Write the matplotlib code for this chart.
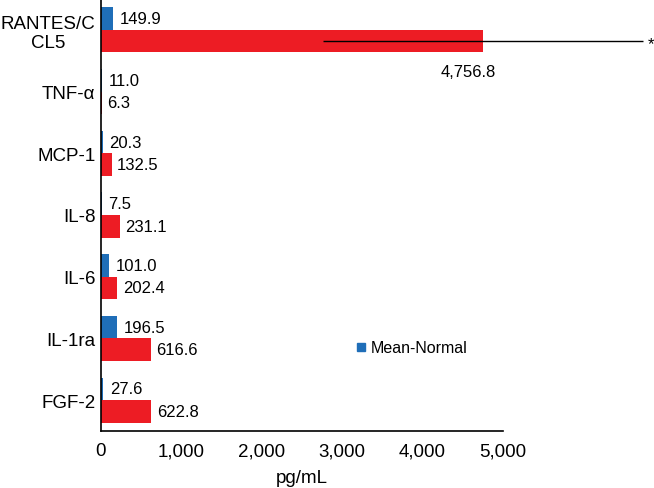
import matplotlib
matplotlib.use("Agg")
import matplotlib.pyplot as plt
from matplotlib.lines import Line2D

plt.rcParams['font.family'] = ['Liberation Sans', 'DejaVu Sans']

categories = ["RANTES/C\nCL5", "TNF-α", "MCP-1", "IL-8", "IL-6", "IL-1ra", "FGF-2"]
normal = [149.9, 11.0, 20.3, 7.5, 101.0, 196.5, 27.6]
other = [4756.8, 6.3, 132.5, 231.1, 202.4, 616.6, 622.8]
rantes_err = 1990
xticks = [0, 1000, 2000, 3000, 4000, 5000]
xticklabels = ["0", "1,000", "2,000", "3,000", "4,000", "5,000"]

blue = "#1f6eb8"
red = "#ed1c24"

fig = plt.figure(figsize=(6.54, 4.89), dpi=100)
ax = fig.add_axes([101/654, 1 - 432/489, (503-101)/654, 432/489])

pos = list(range(len(categories)))
h = 0.365
yb = [p - h/2 for p in pos]
yr = [p + h/2 for p in pos]
ax.barh(yb, normal, height=h, color=blue, label="Mean-Normal")
ax.barh(yr, other, height=h, color=red, label="_nolegend_")

# error bar on RANTES
ax.errorbar([other[0]], [yr[0]], xerr=[[rantes_err], [rantes_err]], fmt='none',
            ecolor='black', elinewidth=1.0, capsize=0, clip_on=False)
ax.annotate("*", xy=(other[0] + rantes_err, yr[0]), xytext=(3, -2),
            textcoords='offset points', ha='left', va='center', fontsize=12,
            annotation_clip=False)

# value labels
for i in pos:
    ax.annotate(f"{normal[i]:,.1f}", xy=(normal[i], yb[i]), xytext=(5, 0),
                textcoords='offset points', ha='left', va='center', fontsize=12)
    if i == 0:
        ax.annotate(f"{other[i]:,.1f}", xy=(other[i], yr[i]), xytext=(-11, -22),
                    textcoords='offset points', ha='center', va='center', fontsize=12)
    else:
        ax.annotate(f"{other[i]:,.1f}", xy=(other[i], yr[i]), xytext=(4, 0),
                    textcoords='offset points', ha='left', va='center', fontsize=12)

ax.set_xlim(0, 5000)
ax.set_ylim(6.5, -0.5)
ax.set_xticks(xticks)
ax.set_xticklabels(xticklabels, fontsize=13.5)
ax.set_yticks(pos)
ax.set_yticklabels(categories, fontsize=13.5, multialignment='center')
ax.tick_params(axis='both', length=0)
ax.tick_params(axis='x', pad=8)
ax.tick_params(axis='y', pad=4)
ax.set_xlabel("pg/mL", fontsize=13.5, labelpad=7)

for s in ['top', 'right']:
    ax.spines[s].set_visible(False)
for s in ['left', 'bottom']:
    ax.spines[s].set_linewidth(1.2)
    ax.spines[s].set_color('black')

handle = Line2D([], [], marker='s', color=blue, linestyle='none', markersize=6)
ax.legend([handle], ["Mean-Normal"], loc='center left',
          bbox_to_anchor=(347/654, 1 - 349/489), bbox_transform=fig.transFigure,
          frameon=False, borderpad=0, handlelength=0.8, handletextpad=0.2,
          fontsize=11.5)

fig.savefig("out.png", dpi=100)
